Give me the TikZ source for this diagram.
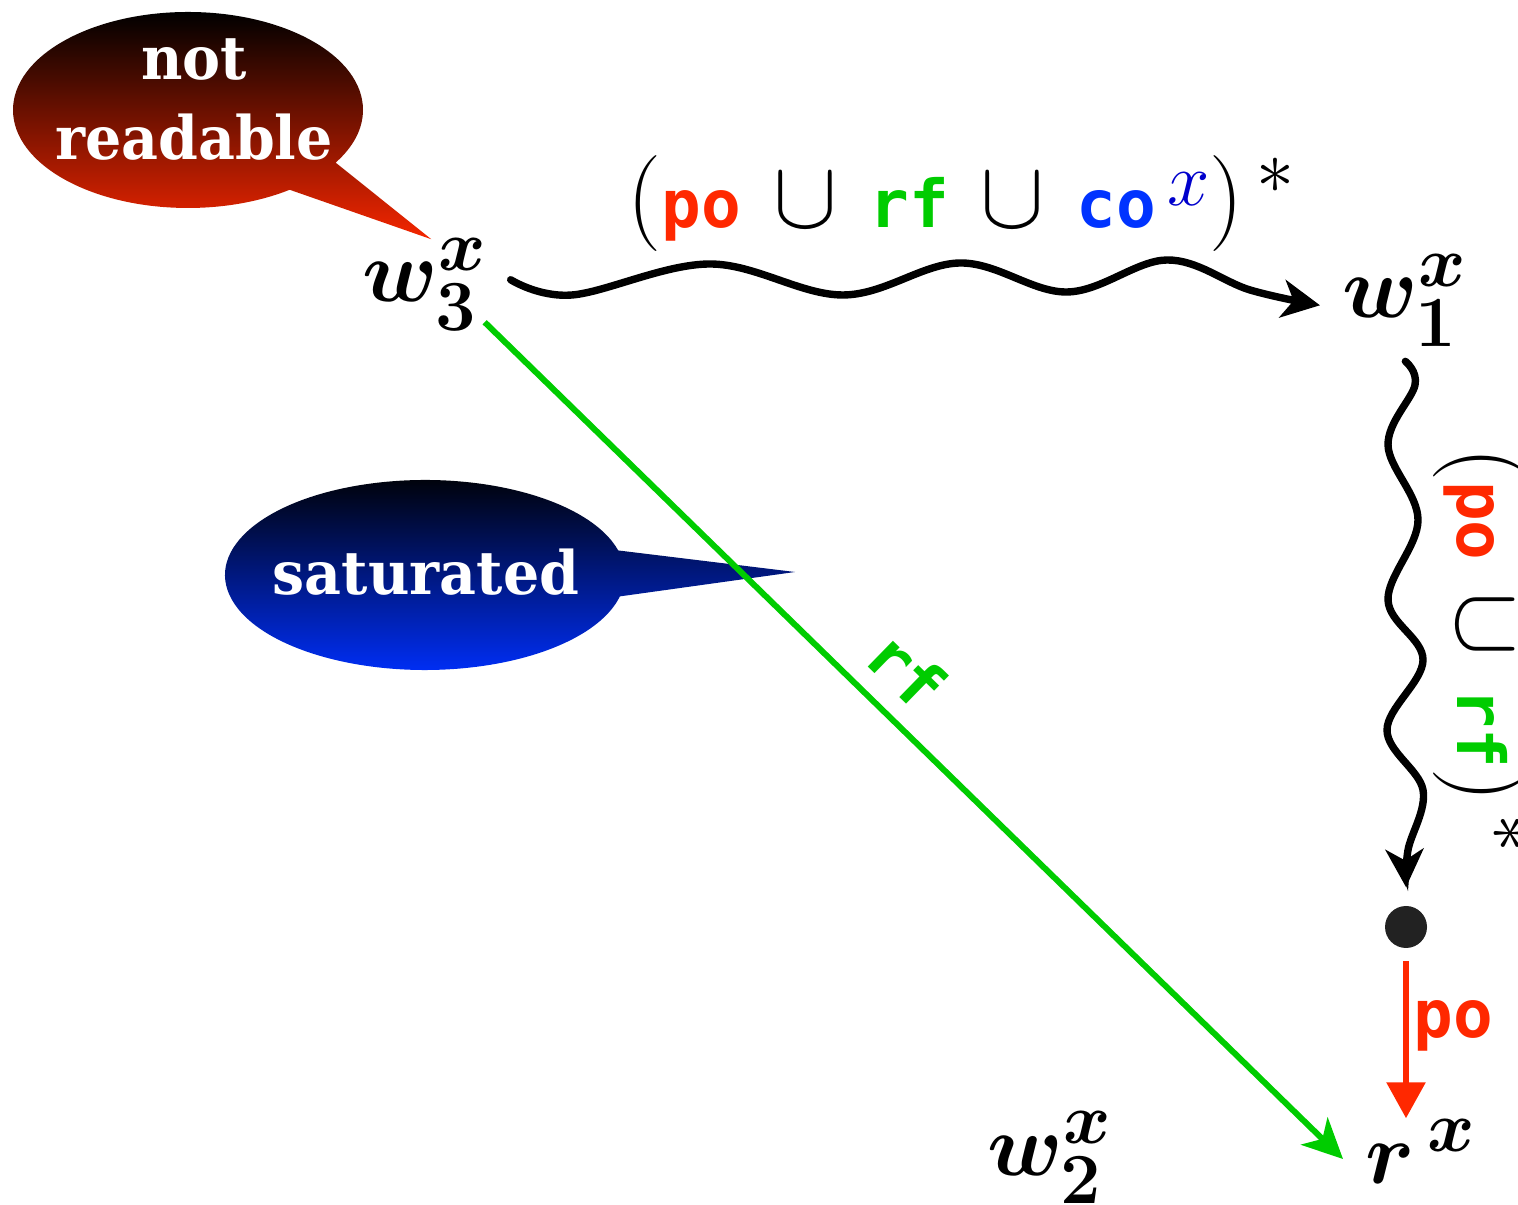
\IfFileExists{fix-cm.sty}{\RequirePackage{fix-cm}}{}
\documentclass[tikz,border=0pt]{standalone}
\usepackage{amsmath}
\usepackage{bm}
\usepackage{fontspec}
\newfontfamily\callfont{DejaVu Serif}[FakeStretch=0.95]
\newfontfamily\lblfont{DejaVu Sans Mono}
\usetikzlibrary{shapes.callouts,arrows.meta,calc}
\DeclareMathSizes{22}{22}{18}{14}
\DeclareMathSizes{24}{24}{19}{15}
\definecolor{poRed}{RGB}{255,40,0}
\definecolor{rfGreen}{RGB}{0,204,0}
\definecolor{coBlue}{RGB}{0,51,255}
\definecolor{xBlue}{RGB}{0,0,204}
\definecolor{dotGray}{RGB}{34,34,34}
\definecolor{calloutRed}{RGB}{245,38,0}
\definecolor{calloutBlue}{RGB}{0,48,255}
\newcommand\rel[2]{\text{\fontsize{16.5}{18}\selectfont\lblfont\bfseries\color{#1}#2}}
\newcommand\ucup{\mskip2mu\cup\mskip2mu}
\newcommand\bsub[1]{\text{\bfseries #1}}
\tikzset{
  vlabel/.style={inner sep=0pt, font=\fontsize{22}{26}\selectfont},
  relabel/.style={inner sep=0pt, font=\fontsize{24}{28}\selectfont},
  calloutbox/.style={ellipse callout, inner sep=0pt, top color=black},
  calltext/.style={inner sep=0pt, text=white, align=center,
     font=\callfont\bfseries\fontsize{15}{20}\selectfont},
  wavy/.style={line width=1.85pt, line cap=round,
     -{Stealth[length=9.5pt,width=9.5pt,inset=2.8pt]}},
  rfline/.style={rfGreen, line width=1.5pt,
     -{Stealth[length=10pt,width=9.5pt,inset=2.8pt]}},
  poline/.style={poRed, line width=1.5pt,
     -{Triangle[length=9pt,width=9.5pt]}},
}
\begin{document}
\begin{tikzpicture}[x=0.25pt,y=-0.25pt]
\useasboundingbox (0,0) rectangle (1518,1205);

% event labels
\node[vlabel, anchor=base west] (w3) at (362,302) {$\bm{w}_{\bsub{3}}^{\bm{x}}$};
\node[vlabel, anchor=base west] (w1) at (1342,318) {$\bm{w}_{\bsub{1}}^{\bm{x}}$};
\node[vlabel, anchor=base west] (w2) at (987,1175) {$\bm{w}_{\bsub{2}}^{\bm{x}}$};
\node[vlabel, anchor=base west] (rx) at (1365,1183) {$\bm{r}^{\,\bm{x}}$};
\node[circle, fill=dotGray, minimum size=10.5pt, inner sep=0pt] (dot) at (1406,927) {};

% callouts
\node[calloutbox, bottom color=calloutRed, minimum width=87.5pt, minimum height=49pt,
      callout pointer arc=22, callout absolute pointer={($(w3.north)+(6,2)$)}]
      (c1) at (188,110) {};
\node[calltext] (t1) at (194,100) {not\\readable};

\coordinate (c2tip) at (795,572);
\node[calloutbox, bottom color=calloutBlue, minimum width=100pt, minimum height=47.5pt,
      callout pointer arc=28, callout absolute pointer={(c2tip)}]
      (c2) at (425,575) {};
\node[calltext, anchor=base] (t2) at (426,595) {saturated};

% horizontal wavy arrow
\coordinate (hs) at ($(w3.east)+(22,-5)$);
\coordinate (he) at ($(w1.west)+(-22,5)$);
\draw[wavy] plot[smooth, tension=0.6] coordinates
  {(hs) (572,295) (710,264) (843,295) (960,263) (1067,292) (1167,260) (1250,290) (he)};
\node[relabel, anchor=base] (hl) at (962,228)
  {$(\rel{poRed}{po}\ucup\rel{rfGreen}{rf}\ucup\rel{coBlue}{co}\mskip2mu\raisebox{5.5pt}{$\scriptstyle\color{xBlue}x$})^{\,*}$};

% vertical wavy arrow
\coordinate (vs) at ($(w1.south)+(0,14)$);
\coordinate (ve) at ($(dot.north)+(0,-18)$);
\draw[wavy] plot[smooth, tension=0.6] coordinates
  {(vs) (1415,385) (1388,445) (1418,520) (1388,600) (1423,660) (1387,730) (1423,790) (1408,850) (ve)};
\node[relabel, anchor=base, rotate=-90] (vl) at (1457,651)
  {$(\rel{poRed}{po}\ucup\rel{rfGreen}{rf})^{\,*}$};

% rf edge
\coordinate (gend) at ($(rx.west)+(-22,8)$);
\draw[rfline] ($(w3.south east)+(-4,-10)$) -- (gend);
\node[inner sep=0pt, rotate=-44.3] (rfl) at (907,670) {\rel{rfGreen}{rf}};

% po edge
\draw[poline] ($(dot.south)+(0,12)$) -- (dot.south |- rx.north);
\node[inner sep=0pt, anchor=base west] (pol) at (1413,1038) {\rel{poRed}{po}};
\end{tikzpicture}
\end{document}
